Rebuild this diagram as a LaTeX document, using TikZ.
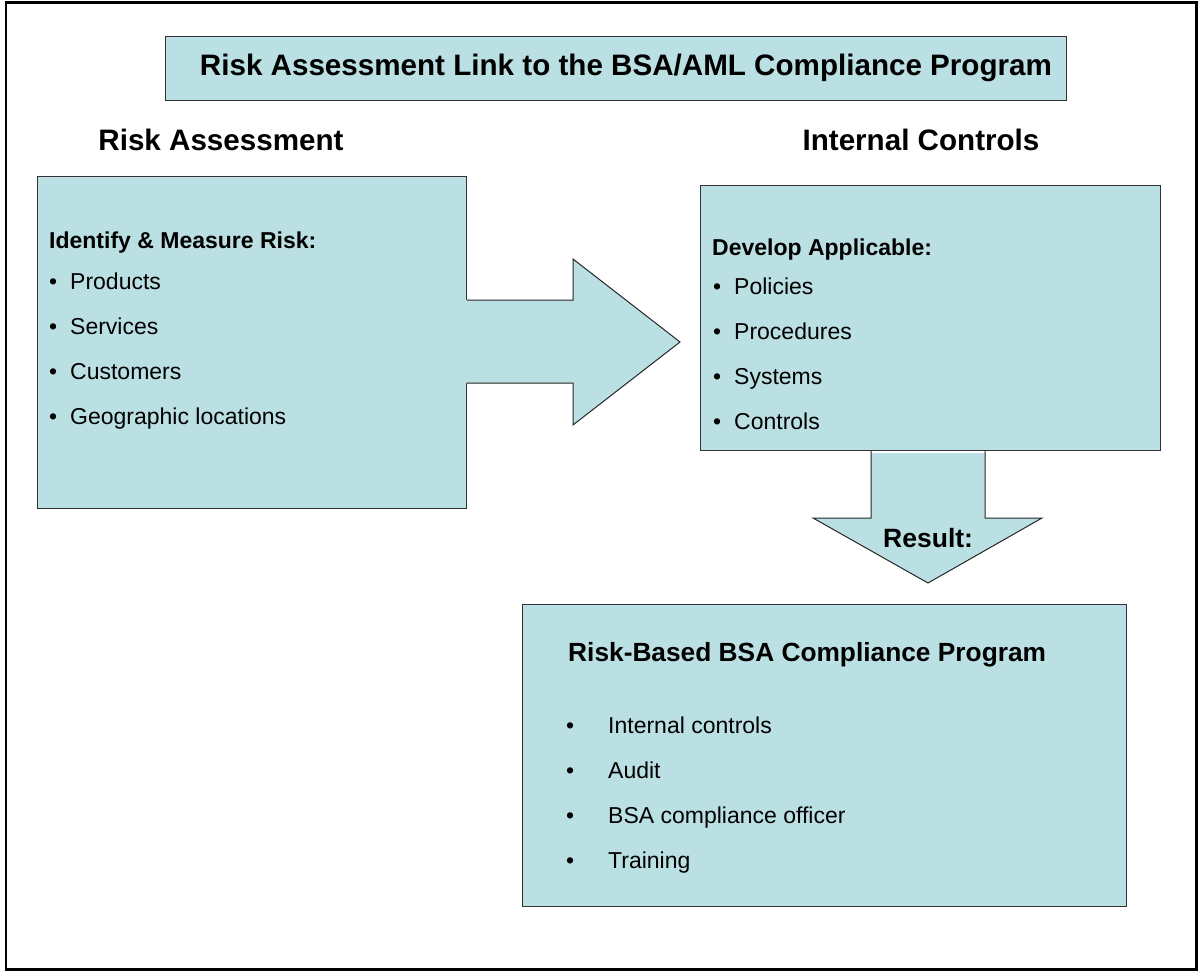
\documentclass[tikz,border=0pt]{standalone}
\usepackage{fontspec}
\setmainfont{Liberation Sans}
\begin{document}
\begin{tikzpicture}[x=1pt,y=-1pt,
  box/.style={draw=black!80,line width=1pt,fill=boxblue},
  hdr/.style={font=\fontsize{29.6}{34}\selectfont\bfseries,inner sep=0pt},
  sub/.style={font=\fontsize{23}{27}\selectfont\bfseries,inner sep=0pt,anchor=base west},
  item/.style={font=\fontsize{23}{27}\selectfont,inner sep=0pt,anchor=base west},
  dot/.style={font=\fontsize{23}{27}\selectfont,inner sep=0pt,anchor=base west}]
\definecolor{boxblue}{HTML}{BBE0E3}
\useasboundingbox (0,0) rectangle (1200,972);
\draw[line width=2.6pt] (6,2.5) rectangle (1196.5,969.5);
% title
\node[box,minimum width=901pt,minimum height=64pt,anchor=north west,inner sep=0pt] (title) at (165,36) {};
\node[hdr] (titletext) at (626,68) {Risk Assessment Link to the BSA/AML Compliance Program};
\node[hdr] (ra) at (221,140) {Risk Assessment};
\node[hdr] (ic) at (921,140) {Internal Controls};
% boxes
\node[box,minimum width=429pt,minimum height=332pt,anchor=north west,inner sep=0pt] (lbox) at (37,176) {};
\node[box,minimum width=460pt,minimum height=265pt,anchor=north west,inner sep=0pt] (rbox) at (700,185) {};
\node[box,minimum width=604pt,minimum height=302pt,anchor=north west,inner sep=0pt] (bbox) at (522,604) {};
% right arrow
\coordinate (ra1) at (lbox.east |- 0,300);
\coordinate (ra2) at (lbox.east |- 0,383);
\fill[boxblue] ([xshift=-2pt]ra1) -- (573,300) -- (573,259) -- (680,342) -- (573,425) -- (573,383) -- ([xshift=-2pt]ra2) -- cycle;
\draw[black!85,line width=1pt] (ra1) -- (573,300) -- (573,259) -- (680,342) -- (573,425) -- (573,383) -- (ra2);
% down arrow
\coordinate (da1) at (871,0 |- rbox.south);
\coordinate (da2) at (985,0 |- rbox.south);
\fill[boxblue] ([yshift=-2pt]da1) -- (871,518) -- (813,518) -- (928,583) -- (1042,518) -- (985,518) -- ([yshift=-2pt]da2) -- cycle;
\draw[black!85,line width=1pt] (da1) -- (871,518) -- (813,518) -- (928,583) -- (1042,518) -- (985,518) -- (da2);
\node[font=\fontsize{26.5}{30}\selectfont\bfseries,inner sep=0pt,anchor=base west] (res) at (883,547) {Result:};
% left box text
\node[sub] (l0) at (49,248) {Identify \& Measure Risk:};
\node[dot] (lb1) at (49,289) {\textbullet};
\node[item] (l1) at (70,289) {Products};
\node[dot] (lb2) at (49,334) {\textbullet};
\node[item] (l2) at (70,334) {Services};
\node[dot] (lb3) at (49,379) {\textbullet};
\node[item] (l3) at (70,379) {Customers};
\node[dot] (lb4) at (49,424) {\textbullet};
\node[item] (l4) at (70,424) {Geographic locations};
% right box text
\node[sub] (r0) at (712,255) {Develop Applicable:};
\node[dot] (rb1) at (713,294) {\textbullet};
\node[item] (r1) at (734,294) {Policies};
\node[dot] (rb2) at (713,339) {\textbullet};
\node[item] (r2) at (734,339) {Procedures};
\node[dot] (rb3) at (713,384) {\textbullet};
\node[item] (r3) at (734,384) {Systems};
\node[dot] (rb4) at (713,429) {\textbullet};
\node[item] (r4) at (734,429) {Controls};
% bottom box text
\node[font=\fontsize{26.3}{30}\selectfont\bfseries,inner sep=0pt,anchor=base west] (b0) at (568,661) {Risk-Based BSA Compliance Program};
\node[dot] (bb1) at (566,733) {\textbullet};
\node[item] (b1) at (608,733) {Internal controls};
\node[dot] (bb2) at (566,778) {\textbullet};
\node[item] (b2) at (608,778) {Audit};
\node[dot] (bb3) at (566,823) {\textbullet};
\node[item] (b3) at (608,823) {BSA compliance officer};
\node[dot] (bb4) at (566,868) {\textbullet};
\node[item] (b4) at (608,868) {Training};
\end{tikzpicture}
\end{document}
